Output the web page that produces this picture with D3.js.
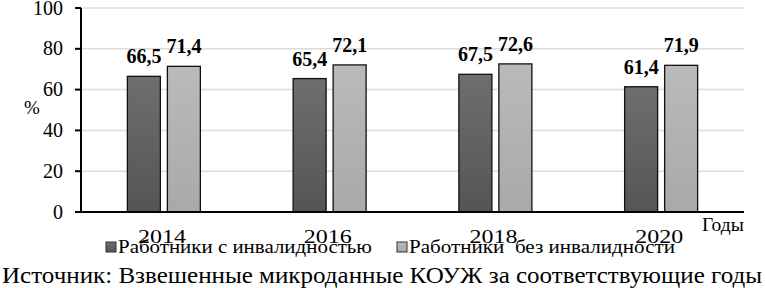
<!DOCTYPE html>
<html>
<head>
<meta charset="utf-8">
<script src="https://cdn.jsdelivr.net/npm/d3@7"></script>
<style>
  body { margin: 0; background: #fff; }
</style>
</head>
<body>
<div id="chart"></div>
<script>
//// data
var years = ["2014", "2016", "2018", "2020"];
var withDisability = [66.5, 65.4, 67.5, 61.4];
var withoutDisability = [71.4, 72.1, 72.6, 71.9];
var seriesNames = ["Работники с инвалидностью", "Работники  без инвалидности"];
var yTicks = [0, 20, 40, 60, 80, 100];

//// chart
var width = 765, height = 288;
var margin = {top: 8, right: 21, bottom: 76, left: 81};
var serif = "'Liberation Serif'";

var svg = d3.select("#chart")
  .append("svg")
    .attr("width", width)
    .attr("height", height)
    .style("display", "block");

var defs = svg.append("defs");
var g1 = defs.append("linearGradient").attr("id", "gDark").attr("x1", 0).attr("y1", 0).attr("x2", 0).attr("y2", 1);
g1.append("stop").attr("offset", "0%").attr("stop-color", "#6e6e6e");
g1.append("stop").attr("offset", "100%").attr("stop-color", "#555");
var g2 = defs.append("linearGradient").attr("id", "gLight").attr("x1", 0).attr("y1", 0).attr("x2", 0).attr("y2", 1);
g2.append("stop").attr("offset", "0%").attr("stop-color", "#bababa");
g2.append("stop").attr("offset", "100%").attr("stop-color", "#a9a9a9");

var colors = ["url(#gDark)", "url(#gLight)"];

var xScale = d3.scaleBand()
  .domain(years)
  .range([margin.left, width - margin.right]);

var yScale = d3.scaleLinear()
  .domain([0, 100])
  .range([height - margin.bottom, margin.top]);

//// gridlines
svg.append("g")
  .selectAll("line")
  .data(yTicks.filter(d => d > 0))
  .enter()
  .append("line")
    .attr("x1", margin.left)
    .attr("x2", width - margin.right)
    .attr("y1", d => yScale(d))
    .attr("y2", d => yScale(d))
    .attr("stroke", "#dcdcdc")
    .attr("stroke-width", 1.5);

//// bars
var barW = 33, gap = 7;
var series = [withDisability, withoutDisability];

series.forEach(function(vals, s) {
  var offs = s === 0 ? -(gap / 2 + barW) : gap / 2;
  svg.append("g")
    .selectAll("rect")
    .data(vals)
    .enter()
    .append("rect")
      .attr("x", (d, i) => xScale(years[i]) + xScale.bandwidth() / 2 + offs)
      .attr("y", d => yScale(d))
      .attr("width", barW)
      .attr("height", d => yScale(0) - yScale(d))
      .attr("fill", colors[s])
      .attr("stroke", "#111")
      .attr("stroke-width", 1.3);

  svg.append("g")
    .selectAll("text")
    .data(vals)
    .enter()
    .append("text")
      .attr("x", (d, i) => xScale(years[i]) + xScale.bandwidth() / 2 + offs + barW / 2)
      .attr("y", d => yScale(d) - 13)
      .attr("text-anchor", "middle")
      .attr("font-family", serif)
      .attr("font-size", "20px")
      .attr("font-weight", "bold")
      .attr("fill", "#000")
      .text(d => d.toFixed(1).replace(".", ","));
});

//// axes
svg.append("line")
  .attr("x1", 75).attr("x2", width - margin.right)
  .attr("y1", yScale(0)).attr("y2", yScale(0))
  .attr("stroke", "#000").attr("stroke-width", 2);

svg.append("line")
  .attr("x1", margin.left).attr("x2", margin.left)
  .attr("y1", yScale(0)).attr("y2", yScale(100))
  .attr("stroke", "#000").attr("stroke-width", 2);

svg.append("g")
  .selectAll("line")
  .data(yTicks)
  .enter()
  .append("line")
    .attr("x1", 75).attr("x2", margin.left)
    .attr("y1", d => yScale(d)).attr("y2", d => yScale(d))
    .attr("stroke", "#000").attr("stroke-width", 2);

svg.append("g")
  .selectAll("text")
  .data(yTicks)
  .enter()
  .append("text")
    .attr("x", 63)
    .attr("y", d => yScale(d) + 6.5)
    .attr("text-anchor", "end")
    .attr("font-family", serif)
    .attr("font-size", "20px")
    .text(d => d);

svg.append("text")
  .attr("x", 32).attr("y", 114)
  .attr("text-anchor", "middle")
  .attr("font-family", serif)
  .attr("font-size", "19px")
  .text("%");

// year labels are drawn a bit wider than the plain font
svg.append("g")
  .selectAll("text")
  .data(years)
  .enter()
  .append("text")
    .attr("x", d => xScale(d) + xScale.bandwidth() / 2 - 2 - 24)
    .attr("y", 243)
    .attr("font-family", serif)
    .attr("font-size", "19.5px")
    .attr("textLength", 48)
    .attr("lengthAdjust", "spacingAndGlyphs")
    .text(d => d);

svg.append("text")
  .attr("x", 702).attr("y", 231)
  .attr("font-family", serif)
  .attr("font-size", "19.5px")
  .text("Годы");

//// legend
var legendX = [106, 397];
var legendW = [254, 266];
seriesNames.forEach(function(name, s) {
  svg.append("rect")
    .attr("x", legendX[s]).attr("y", 242)
    .attr("width", 10).attr("height", 10)
    .attr("fill", colors[s])
    .attr("stroke", "#333").attr("stroke-width", 1);
  svg.append("text")
    .attr("x", legendX[s] + 12).attr("y", 253)
    .attr("font-family", serif)
    .attr("font-size", "19px")
    .attr("textLength", legendW[s])
    .attr("lengthAdjust", "spacingAndGlyphs")
    .style("white-space", "pre")
    .text(name);
});

//// source
svg.append("text")
  .attr("x", 2).attr("y", 283)
  .attr("font-family", serif)
  .attr("font-size", "22.5px")
  .attr("textLength", 760)
  .attr("lengthAdjust", "spacingAndGlyphs")
  .text("Источник: Взвешенные микроданные КОУЖ за соответствующие годы");
</script>
</body>
</html>
